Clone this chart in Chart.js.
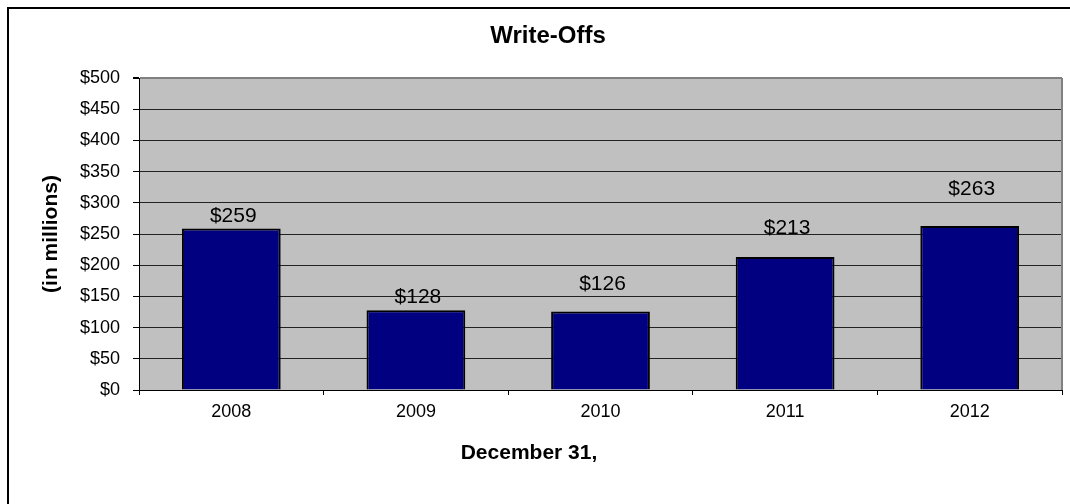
<!DOCTYPE html>
<html>
<head>
<meta charset="utf-8">
<title>Write-Offs</title>
<script src="https://cdn.jsdelivr.net/npm/chart.js@4.4.1/dist/chart.umd.min.js"></script>
<style>
  html, body { margin: 0; padding: 0; background: #fff; }
</style>
</head>
<body>
<canvas id="writeoffs" width="1070" height="504"></canvas>
<script>
// Write-offs at December 31 of each year, in $ millions
const years = ['2008', '2009', '2010', '2011', '2012'];
const writeOffs = [259, 128, 126, 213, 263];
const yTicks = [0, 50, 100, 150, 200, 250, 300, 350, 400, 450, 500];

const chartTitle = 'Write-Offs';
const yTitle = '(in millions)';
const xTitle = 'December 31,';

const FONT = "'Liberation Sans', Arial, sans-serif";

// grey plot area, outer frame, grey right edge of plot, value labels, x caption
const excelLook = {
    id: 'excelLook',
    beforeDraw(chart) {
        const { ctx, chartArea: a } = chart;
        ctx.save();
        ctx.fillStyle = '#fff';
        ctx.fillRect(0, 0, chart.width, chart.height);
        ctx.fillStyle = '#c0c0c0';
        ctx.fillRect(a.left, a.top, a.right - a.left, a.bottom - a.top);
        ctx.strokeStyle = '#000';
        ctx.lineWidth = 2;
        ctx.beginPath();
        ctx.moveTo(8, chart.height);
        ctx.lineTo(8, 8);
        ctx.lineTo(chart.width, 8);
        ctx.stroke();
        ctx.restore();
    },
    afterDraw(chart, args, opts) {
        const { ctx, chartArea: a } = chart;
        ctx.save();
        ctx.strokeStyle = '#808080';
        ctx.lineWidth = 2;
        ctx.beginPath();
        ctx.moveTo(a.right, a.top);
        ctx.lineTo(a.right, a.bottom);
        ctx.stroke();

        // value labels above the bars
        const meta = chart.getDatasetMeta(0);
        ctx.fillStyle = '#000';
        ctx.font = '21px ' + FONT;
        ctx.textAlign = 'center';
        ctx.textBaseline = 'middle';
        meta.data.forEach((bar, i) => {
            const v = chart.data.datasets[0].data[i];
            ctx.fillText('$' + v, bar.x + 2, bar.y - opts.lift[i]);
        });

        // x axis caption
        ctx.font = 'bold 21px ' + FONT;
        ctx.fillText(xTitle, chart.width / 2 - 6, 453);
        ctx.restore();
    }
};

const ctx = document.getElementById('writeoffs').getContext('2d');
const chart = new Chart(ctx, {
    type: 'bar',
    data: {
        labels: years,
        datasets: [{
            data: writeOffs,
            backgroundColor: '#000080',
            borderColor: '#000',
            borderWidth: 2,
            borderSkipped: 'bottom',
            categoryPercentage: 1,
            barPercentage: 0.535
        }]
    },
    options: {
        responsive: false,
        animation: false,
        layout: { padding: { left: 34, right: 8, top: 0, bottom: 0 } },
        plugins: {
            legend: { display: false },
            tooltip: { enabled: false },
            title: {
                display: true,
                text: chartTitle,
                color: '#000',
                font: { family: FONT, size: 24, weight: 'bold' },
                padding: { top: 22, bottom: 27.2 }
            },
            excelLook: { lift: [12, 13, 27, 29, 37] }
        },
        scales: {
            x: {
                afterFit: s => { s.height = 114; },
                grid: {
                    offset: true,
                    drawOnChartArea: false,
                    tickLength: 5,
                    tickColor: '#000'
                },
                border: { color: '#000', width: 1 },
                ticks: {
                    color: '#000',
                    padding: 6,
                    font: { family: FONT, size: 18 }
                }
            },
            y: {
                min: 0,
                max: 500,
                afterFit: s => { s.width = 105; },
                afterBuildTicks: s => { s.ticks = yTicks.map(v => ({ value: v })); },
                grid: {
                    color: c => c.tick && c.tick.value === 500 ? '#808080' : '#222',
                    lineWidth: c => c.tick && c.tick.value === 500 ? 2 : 1,
                    tickLength: 6,
                    tickColor: '#000'
                },
                border: { color: '#000', width: 1 },
                ticks: {
                    color: '#000',
                    padding: 13,
                    font: { family: FONT, size: 18 },
                    callback: v => '$' + v
                },
                title: {
                    display: true,
                    text: yTitle,
                    color: '#000',
                    font: { family: FONT, size: 21, weight: 'bold' },
                    padding: { top: 5, bottom: 0 }
                }
            }
        }
    },
    plugins: [excelLook]
});
</script>
</body>
</html>
